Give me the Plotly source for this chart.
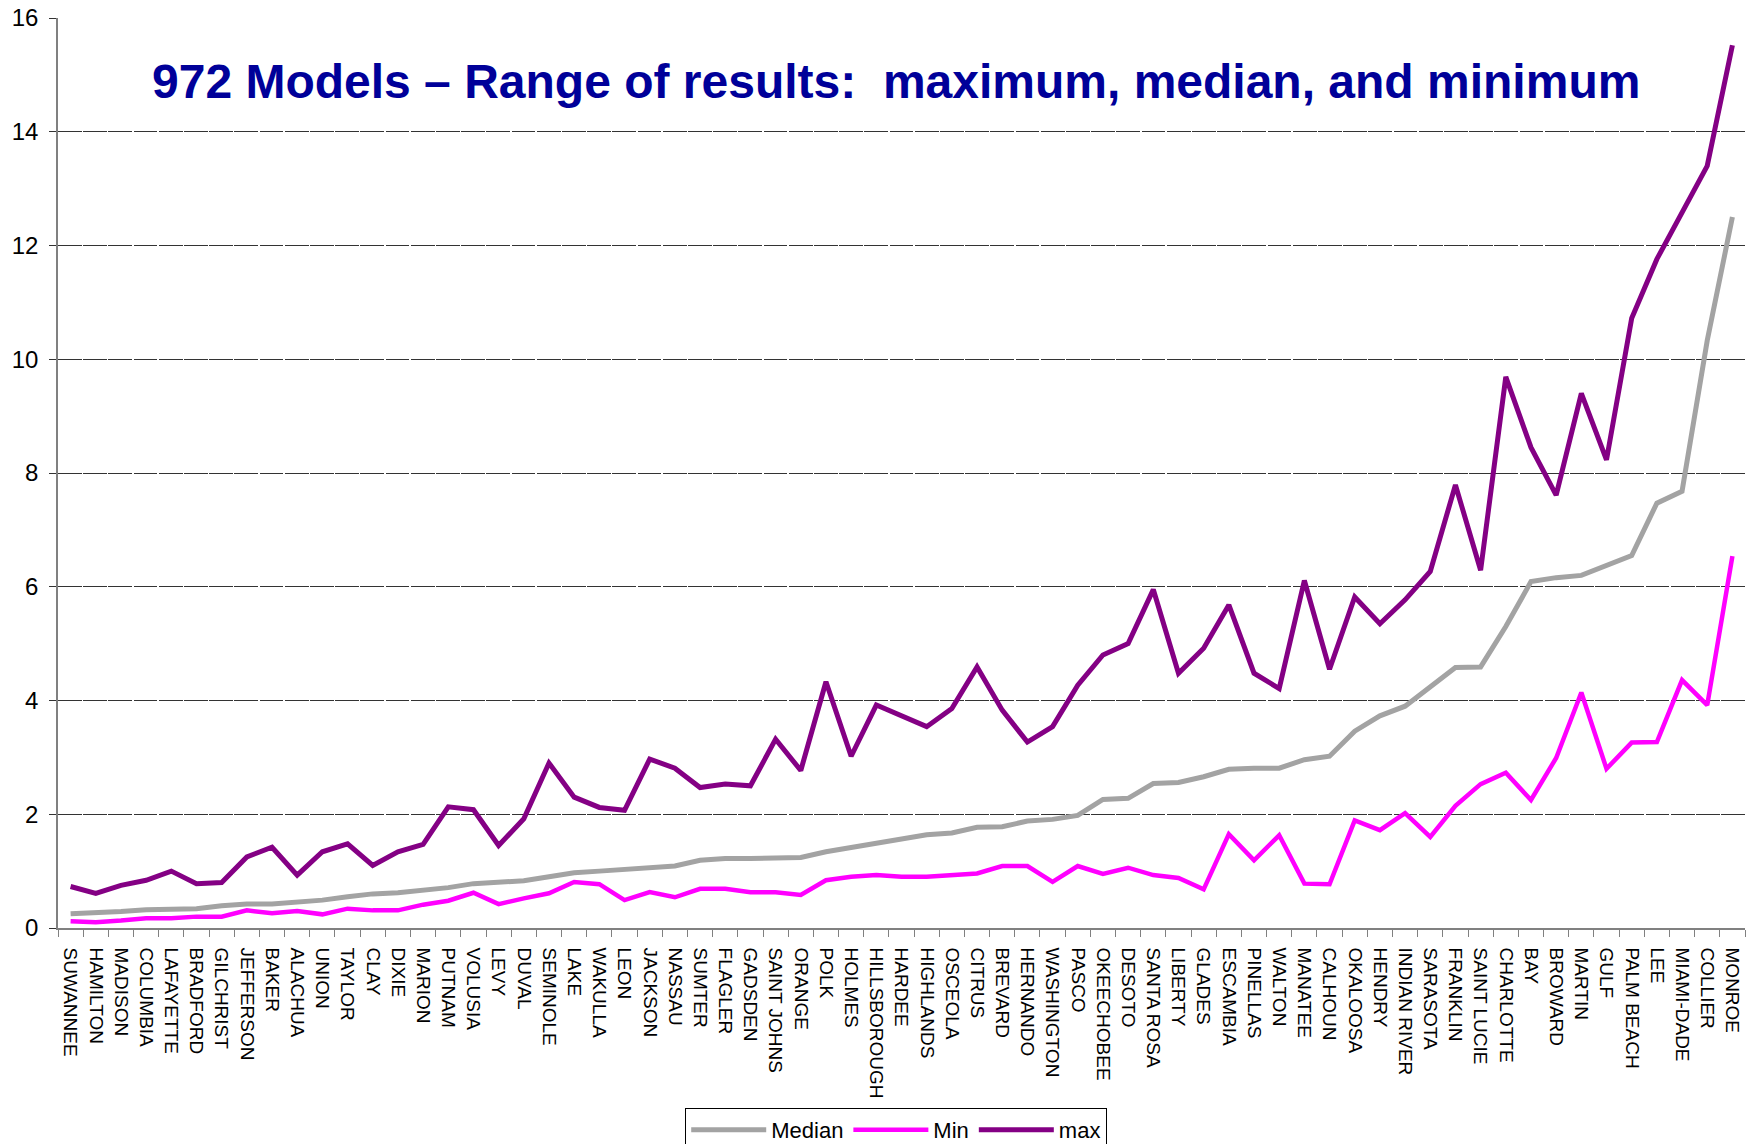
import plotly.graph_objects as go

counties = ["SUWANNEE", "HAMILTON", "MADISON", "COLUMBIA", "LAFAYETTE", "BRADFORD", "GILCHRIST",
            "JEFFERSON", "BAKER", "ALACHUA", "UNION", "TAYLOR", "CLAY", "DIXIE", "MARION", "PUTNAM",
            "VOLUSIA", "LEVY", "DUVAL", "SEMINOLE", "LAKE", "WAKULLA", "LEON", "JACKSON", "NASSAU",
            "SUMTER", "FLAGLER", "GADSDEN", "SAINT JOHNS", "ORANGE", "POLK", "HOLMES", "HILLSBOROUGH",
            "HARDEE", "HIGHLANDS", "OSCEOLA", "CITRUS", "BREVARD", "HERNANDO", "WASHINGTON", "PASCO",
            "OKEECHOBEE", "DESOTO", "SANTA ROSA", "LIBERTY", "GLADES", "ESCAMBIA", "PINELLAS", "WALTON",
            "MANATEE", "CALHOUN", "OKALOOSA", "HENDRY", "INDIAN RIVER", "SARASOTA", "FRANKLIN",
            "SAINT LUCIE", "CHARLOTTE", "BAY", "BROWARD", "MARTIN", "GULF", "PALM BEACH", "LEE",
            "MIAMI-DADE", "COLLIER", "MONROE"]

median_vals = [0.25, 0.26, 0.29, 0.32, 0.33, 0.34, 0.39, 0.42, 0.42, 0.45, 0.49, 0.55, 0.60, 0.62,
               0.66, 0.71, 0.78, 0.81, 0.83, 0.90, 0.97, 1.00, 1.03, 1.06, 1.09, 1.19, 1.22, 1.22,
               1.24, 1.24, 1.34, 1.41, 1.49, 1.57, 1.64, 1.67, 1.77, 1.78, 1.88, 1.91, 1.98, 2.26,
               2.28, 2.54, 2.56, 2.66, 2.79, 2.81, 2.81, 2.96, 3.02, 3.46, 3.73, 3.90, 4.24, 4.58,
               4.59, 5.30, 6.09, 6.16, 6.20, 6.38, 6.55, 7.47, 7.68, 10.33, 12.50]

min_vals = [0.12, 0.10, 0.13, 0.17, 0.17, 0.20, 0.20, 0.31, 0.26, 0.30, 0.24, 0.34, 0.31, 0.31,
            0.41, 0.48, 0.62, 0.42, 0.52, 0.61, 0.81, 0.77, 0.49, 0.63, 0.54, 0.69, 0.69, 0.63,
            0.63, 0.58, 0.84, 0.90, 0.93, 0.90, 0.90, 0.93, 0.96, 1.09, 1.09, 0.81, 1.09, 0.95,
            1.06, 0.93, 0.88, 0.68, 1.65, 1.19, 1.63, 0.78, 0.77, 1.89, 1.72, 2.02, 1.60, 2.15,
            2.53, 2.73, 2.25, 2.99, 4.14, 2.80, 3.26, 3.27, 4.36, 3.92, 6.54]

max_vals = [0.73, 0.61, 0.75, 0.84, 1.00, 0.78, 0.80, 1.25, 1.42, 0.93, 1.34, 1.48, 1.10, 1.34,
            1.47, 2.13, 2.08, 1.45, 1.92, 2.90, 2.30, 2.12, 2.07, 2.97, 2.81, 2.47, 2.53, 2.50,
            3.32, 2.77, 4.33, 3.02, 3.92, 3.72, 3.54, 3.86, 4.59, 3.83, 3.27, 3.54, 4.27, 4.80,
            5.00, 5.95, 4.48, 4.92, 5.68, 4.48, 4.21, 6.11, 4.55, 5.82, 5.35, 5.77, 6.27, 7.79,
            6.29, 9.69, 8.45, 7.61, 9.40, 8.23, 10.72, 11.76, 12.60, 13.40, 15.52]

y_ticks = [0, 2, 4, 6, 8, 10, 12, 14, 16]
title_text = "972 Models – Range of results:  maximum, median, and minimum"

FONT = "Liberation Sans, Arial, sans-serif"

fig = go.Figure()
fig.add_trace(go.Scatter(x=counties, y=median_vals, mode="lines", name="Median",
                         line=dict(color="#A3A3A3", width=5)))
fig.add_trace(go.Scatter(x=counties, y=min_vals, mode="lines", name="Min",
                         line=dict(color="#FF00FF", width=4.5)))
fig.add_trace(go.Scatter(x=counties, y=max_vals, mode="lines", name="max",
                         line=dict(color="#840084", width=5)))

fig.add_annotation(text="<b>" + title_text + "</b>", xref="paper", yref="paper",
                   x=0.497, y=0.93, xanchor="center", yanchor="middle", showarrow=False,
                   font=dict(family=FONT, size=48, color="#000099"))

fig.update_layout(
    width=1747, height=1144,
    margin=dict(l=58, r=2, t=18, b=216, autoexpand=False),
    paper_bgcolor="white", plot_bgcolor="white",
    font=dict(family=FONT, color="black"),
    showlegend=True,
    legend=dict(orientation="h", xref="container", yref="container",
                x=0.513, y=0.0315, xanchor="center", yanchor="top",
                bordercolor="black", borderwidth=1, bgcolor="white",
                font=dict(family=FONT, size=22, color="black"),
                itemwidth=75, tracegroupgap=0),
)

fig.update_xaxes(
    type="category", tickangle=90, tickson="boundaries",
    ticks="outside", ticklen=7, tickcolor="#808080", tickwidth=1,
    showline=True, linecolor="#808080", linewidth=1.5,
    showgrid=False, zeroline=False, automargin=False,
    tickfont=dict(family=FONT, size=19, color="black"),
    ticklabelstandoff=14,
    range=[-0.5, len(counties) - 0.5],
)

fig.update_yaxes(
    range=[0, 16], tickvals=y_ticks, ticktext=[str(v) for v in y_ticks],
    ticks="outside", ticklen=7, tickcolor="#333333",
    showline=True, linecolor="#808080", linewidth=1.5,
    showgrid=True, gridcolor="#333333", gridwidth=1.2, griddash="23.7px,1.5px",
    zeroline=False, automargin=False,
    tickfont=dict(family=FONT, size=24, color="black"),
    ticklabelstandoff=6,
)

fig.write_html("out.html", config={"displayModeBar": False},
               post_script="document.body.style.margin='0';")
